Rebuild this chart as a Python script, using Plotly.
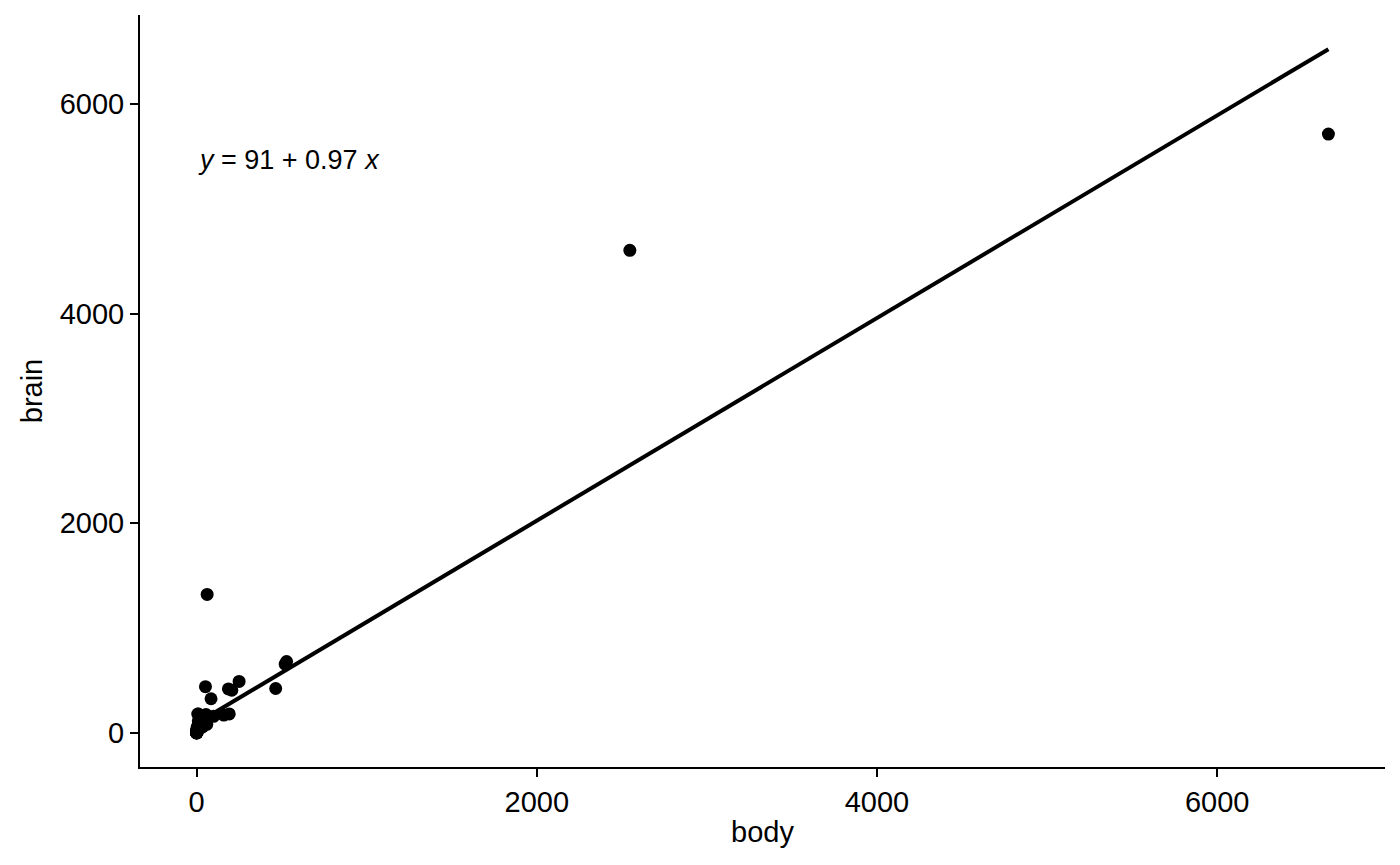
import numpy as np
import plotly.graph_objects as go

# MASS::mammals (body kg, brain g)
body = [3.385, 0.480, 1.350, 465.0, 36.33, 27.66, 14.83, 1.04, 4.19, 0.425,
        0.101, 0.92, 1.0, 0.005, 0.06, 3.5, 2.0, 1.7, 2547.0, 0.023,
        187.1, 521.0, 0.785, 10.0, 3.3, 0.2, 1.41, 529.0, 207.0, 85.0,
        0.75, 62.0, 6654.0, 3.5, 6.8, 35.0, 4.05, 0.12, 0.023, 0.01,
        1.4, 250.0, 2.5, 55.5, 100.0, 52.16, 10.55, 0.55, 60.0, 3.6,
        4.288, 0.28, 0.075, 0.122, 0.048, 192.0, 3.0, 160.0, 0.9, 1.62,
        0.104, 4.235]
brain = [44.5, 15.5, 8.1, 423.0, 119.5, 115.0, 98.2, 5.5, 58.0, 6.4,
         4.0, 5.7, 6.6, 0.14, 1.0, 10.8, 12.3, 6.3, 4603.0, 0.3,
         419.0, 655.0, 3.5, 115.0, 25.6, 5.0, 17.5, 680.0, 406.0, 325.0,
         12.3, 1320.0, 5712.0, 3.9, 179.0, 56.0, 17.0, 1.0, 0.4, 0.25,
         12.5, 490.0, 12.1, 175.0, 157.0, 440.0, 179.5, 2.4, 81.0, 21.0,
         39.2, 1.9, 1.2, 3.0, 0.33, 180.0, 25.0, 169.0, 2.6, 11.4,
         2.5, 50.4]
x_ticks = [0, 2000, 4000, 6000]
y_ticks = [0, 2000, 4000, 6000]

bx = np.array(body)
by = np.array(brain)
slope, intercept = np.polyfit(bx, by, 1)
xs = np.linspace(bx.min(), bx.max(), 80)
ys = intercept + slope * xs

FONT = "Liberation Sans, Arial, sans-serif"

fig = go.Figure()
fig.add_trace(go.Scatter(x=body, y=brain, mode="markers",
                         marker=dict(color="black", size=13, line=dict(width=0)),
                         showlegend=False, hoverinfo="x+y"))
fig.add_trace(go.Scatter(x=xs, y=ys, mode="lines",
                         line=dict(color="black", width=4),
                         showlegend=False, hoverinfo="skip"))

fig.add_annotation(x=0.045, y=0.807, xref="paper", yref="paper",
                   xanchor="left", yanchor="middle", showarrow=False,
                   text=f"<i>y</i> = {intercept:.0f} + {slope:.2f} <i>x</i>",
                   font=dict(family=FONT, size=27, color="black"))

axis_common = dict(showgrid=False, zeroline=False, showline=True, linecolor="black",
                   linewidth=2, ticks="outside", ticklen=8, tickwidth=2,
                   tickcolor="black", mirror=False,
                   tickfont=dict(family=FONT, size=29, color="black"),
                   title_font=dict(family=FONT, size=29, color="black"))

# page body has an 8px margin; offset the figure so the plot area lands where intended
fig.update_layout(
    width=1392, height=857,
    paper_bgcolor="white", plot_bgcolor="white",
    margin=dict(l=132, r=15, t=7, b=98, autoexpand=False),
    xaxis=dict(range=[-332.7, 6986.7], tickvals=x_ticks,
               ticktext=[str(v) for v in x_ticks], title=dict(text="body", standoff=5),
               **axis_common),
    yaxis=dict(range=[-326, 6848], tickvals=y_ticks,
               ticktext=[str(v) for v in y_ticks], title=dict(text="brain", standoff=9),
               **axis_common),
)

fig.write_html("out.html")
